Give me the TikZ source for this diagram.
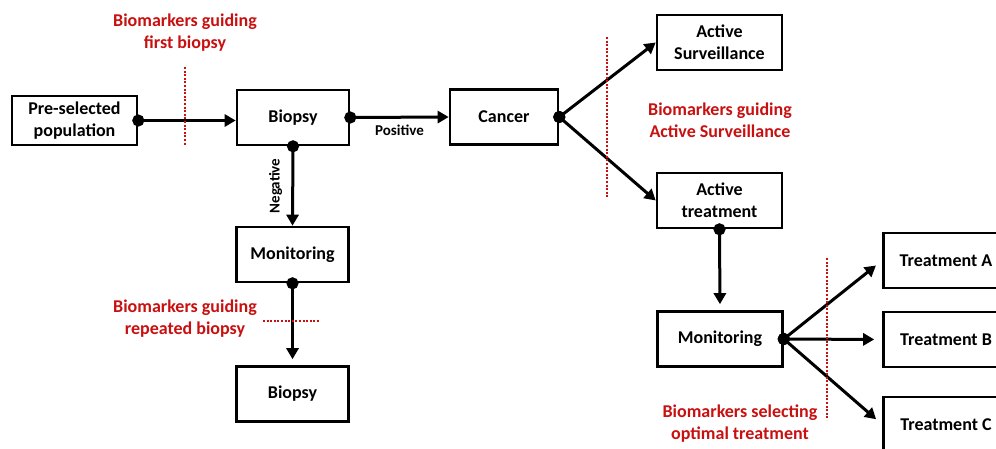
\documentclass[tikz,border=0pt]{standalone}
\usepackage{fontspec}
\setmainfont{Carlito}
\usepackage{xcolor}
\usetikzlibrary{arrows.meta,positioning}
\definecolor{bmred}{RGB}{200,16,16}
\begin{document}
\begin{tikzpicture}[x=1pt,y=-1pt,
 font=\bfseries\fontsize{18}{22}\selectfont,
 stage/.style={draw,line width=2.6pt,minimum width=112pt,minimum height=55pt,align=center,inner sep=2pt},
 wide/.style={stage,minimum width=125pt},
 marker/.style={text=bmred,align=center},
 cut/.style={bmred,line width=2.2pt,dash pattern=on 2pt off 1.6pt},
 arr/.style={{Circle[length=12pt]}-{Triangle[length=11pt,width=12pt]},line width=3pt,shorten <=-6pt},
 gap/.style={shorten >=6pt},
 lbl/.style={font=\bfseries\fontsize{15}{17}\selectfont,inner sep=9pt}]
\useasboundingbox (0,0) rectangle (996,448);
\node[wide,minimum height=49pt] (pop) at (74.5,120.5) {Pre-selected\\population};
\node[stage] (bx1) at (293,117.5) {Biopsy}; \node[stage,minimum width=108pt] (cancer) at (504,117) {Cancer};
\node[wide] (as) at (719.5,42.5) {Active\\Surveillance}; \node[wide] (at) at (719.5,200.5) {Active\\treatment};
\node[stage] (mon1) at (292.5,254.5) {Monitoring}; \node[stage] (bx2) at (292.5,394) {Biopsy};
\node[wide] (mon2) at (720,339) {Monitoring};
\node[wide] (ta) at (946,260.5) {Treatment A}; \node[wide] (tb) at (946,339.5) {Treatment B};
\node[wide] (tc) at (946,424.5) {Treatment C};
\node[marker] (m1) at (185,33) {Biomarkers guiding\\first biopsy};
\node[marker] (m2) at (720,120) {Biomarkers guiding\\Active Surveillance};
\node[marker] (m3) at (740,424) {Biomarkers selecting\\optimal treatment};
\node[marker] (m4) at (185,319) {Biomarkers guiding\\repeated biopsy};
\draw[arr] (pop.east) -- (bx1.west |- pop.east);
\draw[arr] (bx1.east) -- node[below,lbl,inner sep=6pt]{Positive} (cancer.west);
\draw[arr] (bx1.south) -- node[above,rotate=90,lbl]{Negative} (mon1.north);
\draw[arr,gap] (mon1.south) -- (bx2.north);
\draw[arr] (cancer.east) -- (as.west); \draw[arr] (cancer.east) -- (at.west);
\draw[arr,gap] (at.south) -- (mon2.north);
\foreach \t in {ta,tb,tc}{\draw[arr,shorten >=8pt] (mon2.east) -- (\t.west);}
\draw[cut] (185,67) -- (185,146); \draw[cut] (607,37) -- (607,198);
\draw[cut] (827,258) -- (827,420); \draw[cut] (263,321) -- (320,321);
\end{tikzpicture}
\end{document}
